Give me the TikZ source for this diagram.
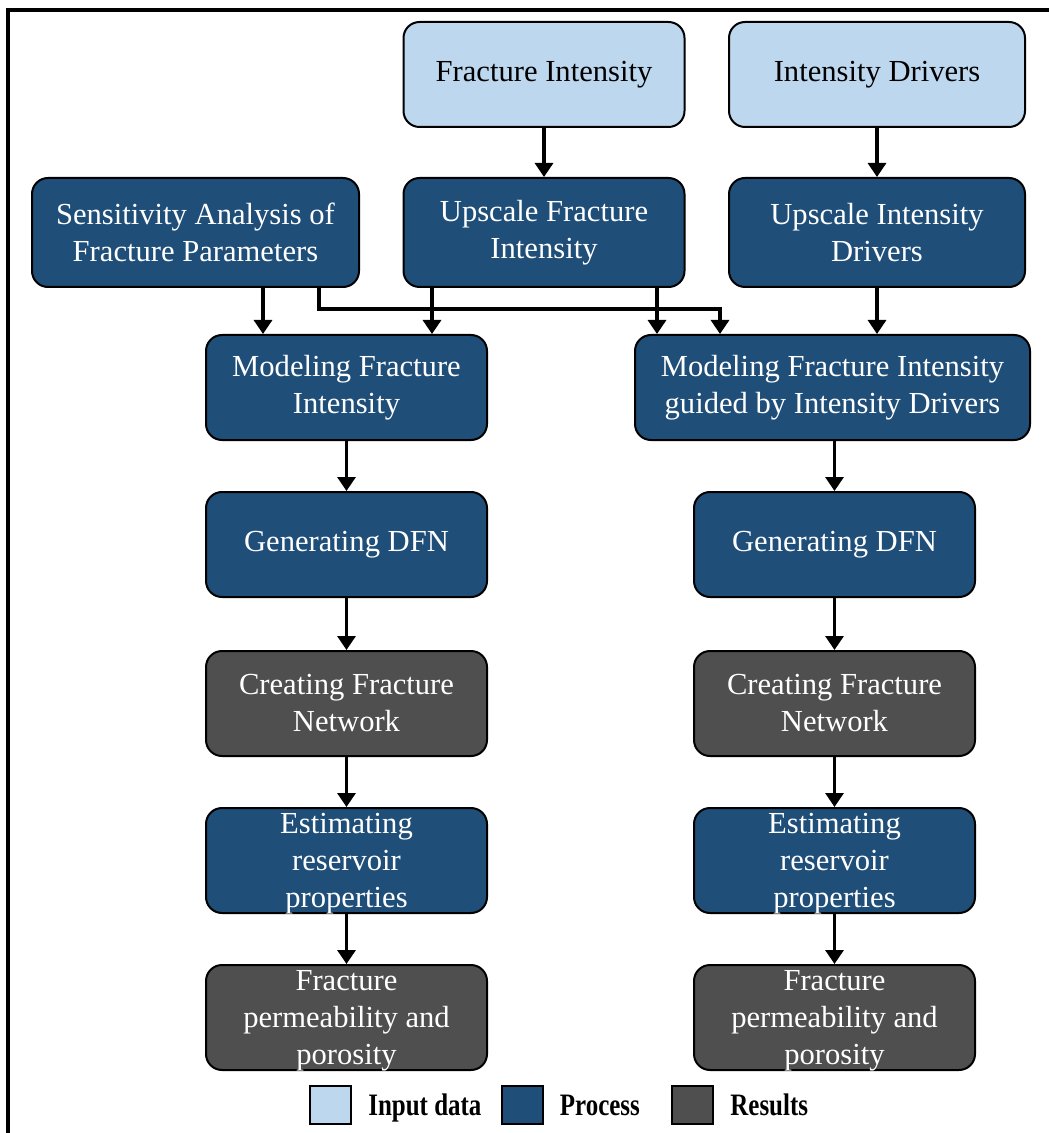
\documentclass[tikz,border=0pt]{standalone}
\usepackage{fontspec}
\setmainfont{Liberation Serif}
\usetikzlibrary{arrows.meta,positioning}

\definecolor{inputblue}{HTML}{BDD7EE}
\definecolor{procblue}{HTML}{1F4E79}
\definecolor{resgray}{HTML}{4F4F4F}

\tikzset{
    box/.style={draw=black, line width=1pt, rounded corners=8pt,
        minimum width=140.5pt, minimum height=52.5pt, inner sep=0pt,
        align=center, font=\fontsize{15.3}{18.5}\selectfont},
    inbox/.style={box, fill=inputblue, text=black},
    procbox/.style={box, fill=procblue, text=white},
    resbox/.style={box, fill=resgray, text=white},
    flow/.style={-{Triangle[width=9pt,length=7pt]}, line width=1.6pt},
    keybox/.style={draw=black, line width=1pt, minimum width=20.5pt,
        minimum height=19pt, inner sep=0pt},
    keytext/.style={inner sep=0pt, text height=10.5pt, text depth=3pt,
        yshift=-1.25pt, font=\fontsize{15.6}{18}\selectfont\bfseries}
}
\newcommand{\keylabel}[1]{\scalebox{0.8}[1]{#1}}

\begin{document}
\begin{tikzpicture}[x=0.5pt,y=-0.5pt]
    \useasboundingbox (0,0) rectangle (1049,1133);
    % frame
    \draw[line width=1.8pt] (8,1133) -- (8,10) -- (1049,10);

    % input data
    \node[inbox] (fint) at (544,74.5) {Fracture Intensity};
    \node[inbox, minimum width=148pt] (drv) at (877,74.5) {Intensity Drivers};

    % upscaling and sensitivity
    \node[procbox, minimum width=163.5pt, minimum height=54.5pt] (sens) at (195.5,232.5)
        {Sensitivity Analysis of\\Fracture Parameters};
    \node[procbox, minimum height=54.5pt] (upfint) at (544,232.5) {Upscale Fracture\\Intensity};
    \node[procbox, minimum width=148pt, minimum height=54.5pt] (updrv) at (877,232.5)
        {Upscale Intensity\\Drivers};

    % left branch
    \node[procbox] (modl) at (346.5,387.5) {Modeling Fracture\\Intensity};
    \node[procbox] (dfnl) at (346.5,544.5) {Generating DFN};
    \node[resbox]  (netl) at (346.5,703.5) {Creating Fracture\\Network};
    \node[procbox, text depth=0pt] (estl) at (346.5,860.5) {Estimating\\reservoir\\properties};
    \node[resbox, text depth=0pt]  (perml) at (346.5,1017.5) {Fracture\\permeability and\\porosity};

    % right branch
    \node[procbox, minimum width=197.5pt] (modr) at (832.5,387.5)
        {Modeling Fracture Intensity\\guided by Intensity Drivers};
    \node[procbox] (dfnr) at (834.5,544.5) {Generating DFN};
    \node[resbox]  (netr) at (834.5,703.5) {Creating Fracture\\Network};
    \node[procbox, text depth=0pt] (estr) at (834.5,860.5) {Estimating\\reservoir\\properties};
    \node[resbox, text depth=0pt]  (permr) at (834.5,1017.5) {Fracture\\permeability and\\porosity};

    % arrows
    \draw[flow] (fint) -- (upfint);
    \draw[flow] (drv) -- (updrv);
    \draw[flow] (263,0 |- sens.south) -- (263,0 |- modl.north);
    \draw[flow] (319,0 |- sens.south) -- (319,309) -- (720,309) -- (720,0 |- modr.north);
    \draw[flow] (432,0 |- upfint.south) -- (432,0 |- modl.north);
    \draw[flow] (657,0 |- upfint.south) -- (657,0 |- modr.north);
    \draw[flow] (updrv) -- (updrv |- modr.north);
    \draw[flow] (modl) -- (dfnl);
    \draw[flow] (dfnl) -- (netl);
    \draw[flow] (netl) -- (estl);
    \draw[flow] (estl) -- (perml);
    \draw[flow] (modr.south -| dfnr) -- (dfnr);
    \draw[flow] (dfnr) -- (netr);
    \draw[flow] (netr) -- (estr);
    \draw[flow] (estr) -- (permr);

    % legend
    \node[keybox, fill=inputblue] (keyin) at (330.5,1105) {};
    \node[keytext, right=8pt of keyin] (keyintxt) {\keylabel{Input data}};
    \node[keybox, fill=procblue] (keyproc) at (522,1105) {};
    \node[keytext, right=8pt of keyproc] (keyproctxt) {\keylabel{Process}};
    \node[keybox, fill=resgray] (keyres) at (692.5,1105) {};
    \node[keytext, right=8pt of keyres] (keyrestxt) {\keylabel{Results}};
\end{tikzpicture}
\end{document}
